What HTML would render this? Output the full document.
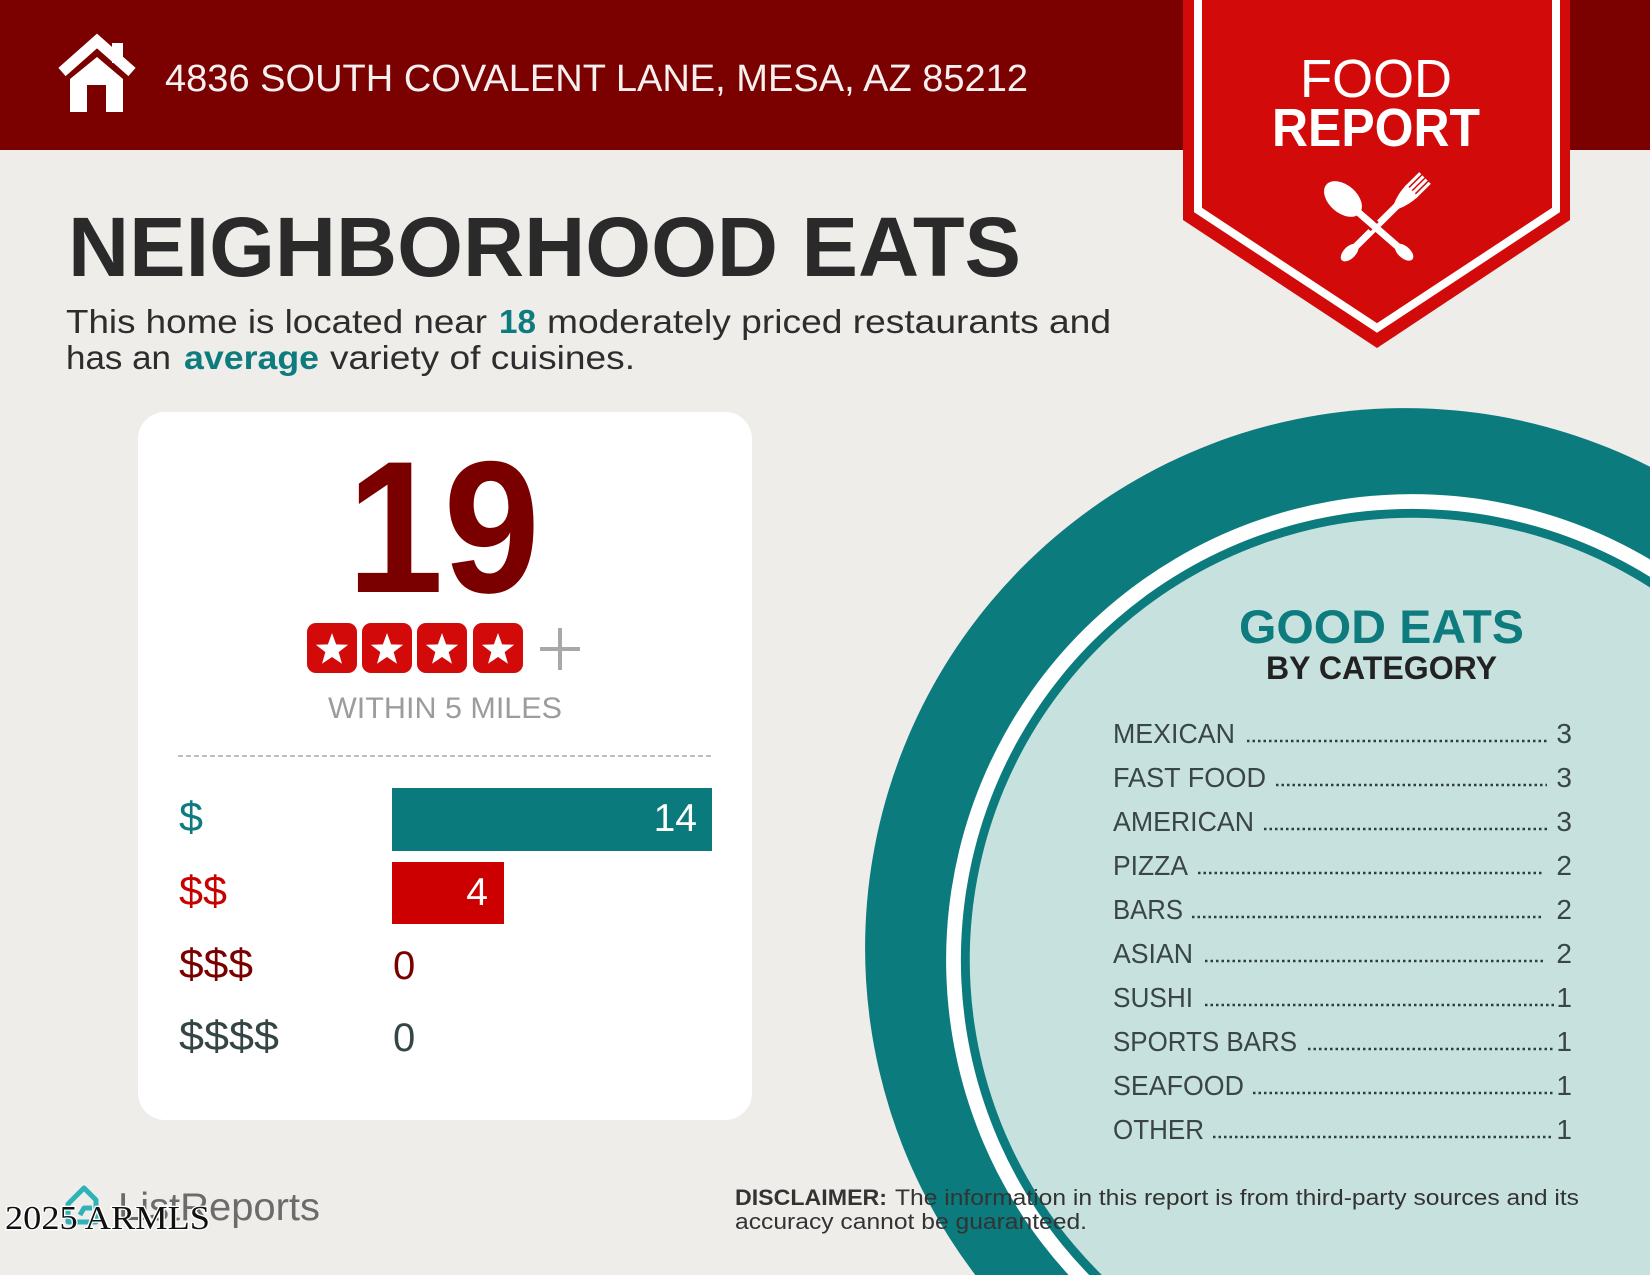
<!DOCTYPE html>
<html>
<head>
<meta charset="utf-8">
<style>
  html,body{margin:0;padding:0;background:#efedea;width:1650px;height:1275px;overflow:hidden;}
  svg{display:block;}
  text{font-family:"Liberation Sans", sans-serif;}
</style>
</head>
<body>
<svg width="1650" height="1275" viewBox="0 0 1650 1275" xmlns="http://www.w3.org/2000/svg">
  <defs>
    <path id="star" d="M0,-17 L4.11,-5.66 L16.17,-5.25 L6.66,2.16 L9.99,13.75 L0,7 L-9.99,13.75 L-6.66,2.16 L-16.17,-5.25 L-4.11,-5.66 Z" fill="#fff"/>
  </defs>

  <!-- background -->
  <rect x="0" y="0" width="1650" height="1275" fill="#efedea"/>

  <!-- header band -->
  <rect x="0" y="0" width="1650" height="150" fill="#7b0000"/>

  <!-- house icon -->
  <g fill="#fff">
    <polyline points="62,72 97,41 132,72" fill="none" stroke="#fff" stroke-width="11" stroke-linejoin="miter"/>
    <rect x="112" y="43" width="11" height="20"/>
    <polygon points="70,112 70,79 97,57 123,79 123,112"/>
    <rect x="87" y="85" width="19" height="27" fill="#7b0000"/>
  </g>

  <!-- address -->
  <text x="165" y="91" font-size="38" fill="#f7f0f0" textLength="863" lengthAdjust="spacingAndGlyphs">4836 SOUTH COVALENT LANE, MESA, AZ 85212</text>

  <!-- ribbon -->
  <polygon points="1183,0 1570,0 1570,220 1377,348 1183,220" fill="#d20a0a"/>
  <polyline points="1198,0 1198,210 1377,328 1556,210 1556,0" fill="none" stroke="#fff" stroke-width="8"/>
  <text x="1376" y="97" font-size="54" fill="#fff" text-anchor="middle" textLength="152" lengthAdjust="spacingAndGlyphs">FOOD</text>
  <text x="1376" y="146" font-size="54" font-weight="bold" fill="#fff" text-anchor="middle" textLength="208" lengthAdjust="spacingAndGlyphs">REPORT</text>

  <!-- fork -->
  <g transform="translate(1425,178) rotate(135.3)" fill="#fff">
    <rect x="0" y="-8.25" width="21" height="3"/>
    <rect x="0" y="-3.75" width="21" height="3"/>
    <rect x="0" y="0.75" width="21" height="3"/>
    <rect x="0" y="5.25" width="21" height="3"/>
    <path d="M18,-8.25 L18,8.25 Q30,8 40,3.5 L40,-3.5 Q30,-8 18,-8.25 Z"/>
    <rect x="38" y="-3.5" width="70" height="7"/>
    <ellipse cx="106" cy="0" rx="11" ry="6"/>
  </g>
  <!-- spoon -->
  <g transform="translate(1343,199) rotate(41)">
    <rect x="12" y="-6" width="30" height="12" fill="#d20a0a"/>
    <g fill="#fff">
      <ellipse cx="0" cy="0" rx="22" ry="14"/>
      <rect x="15" y="-3.5" width="68" height="7" rx="3"/>
      <ellipse cx="81" cy="0" rx="11" ry="6"/>
    </g>
  </g>

  <!-- title -->
  <text x="68" y="276" font-size="84" font-weight="bold" fill="#2a2a2a" textLength="953" lengthAdjust="spacingAndGlyphs">NEIGHBORHOOD EATS</text>

  <!-- subtitle -->
  <g font-size="33" fill="#2d2d2d">
    <text x="66" y="333" textLength="421" lengthAdjust="spacingAndGlyphs">This home is located near</text>
    <text x="499" y="333" font-weight="bold" fill="#0e7c7e" textLength="37" lengthAdjust="spacingAndGlyphs">18</text>
    <text x="547" y="333" textLength="564" lengthAdjust="spacingAndGlyphs">moderately priced restaurants and</text>
    <text x="66" y="369" textLength="105" lengthAdjust="spacingAndGlyphs">has an</text>
    <text x="184" y="369" font-weight="bold" fill="#0e7c7e" textLength="135" lengthAdjust="spacingAndGlyphs">average</text>
    <text x="330" y="369" textLength="305" lengthAdjust="spacingAndGlyphs">variety of cuisines.</text>
  </g>

  <!-- card -->
  <rect x="138" y="412" width="614" height="708" rx="27" ry="27" fill="#ffffff"/>
  <text x="347" y="592" font-size="188" font-weight="bold" fill="#7a0000" textLength="193" lengthAdjust="spacingAndGlyphs">19</text>

  <!-- stars -->
  <g>
    <rect x="307" y="623" width="50" height="50" rx="9" fill="#d20a0a"/>
    <rect x="362" y="623" width="50" height="50" rx="9" fill="#d20a0a"/>
    <rect x="417" y="623" width="50" height="50" rx="9" fill="#d20a0a"/>
    <rect x="473" y="623" width="50" height="50" rx="9" fill="#d20a0a"/>
    <use href="#star" x="332" y="650"/>
    <use href="#star" x="387" y="650"/>
    <use href="#star" x="442" y="650"/>
    <use href="#star" x="498" y="650"/>
  </g>
  <g stroke="#a8a8a8" stroke-width="4">
    <line x1="540" y1="649" x2="580" y2="649"/>
    <line x1="560" y1="628" x2="560" y2="670"/>
  </g>
  <text x="328" y="718" font-size="30" fill="#9c9c9c" textLength="234" lengthAdjust="spacingAndGlyphs">WITHIN 5 MILES</text>

  <line x1="178" y1="756" x2="712" y2="756" stroke="#bdbdbd" stroke-width="2" stroke-dasharray="5 3"/>

  <!-- price bars -->
  <rect x="392" y="788" width="320" height="63" fill="#0a7a7c"/>
  <rect x="392" y="862" width="112" height="62" fill="#cc0000"/>
  <text x="697" y="831" font-size="39" fill="#fff" text-anchor="end">14</text>
  <text x="488" y="905" font-size="39" fill="#fff" text-anchor="end">4</text>

  <text x="179" y="831" font-size="42" fill="#0e7c7e" textLength="24" lengthAdjust="spacingAndGlyphs">$</text>
  <text x="179" y="905" font-size="42" fill="#c80000" textLength="48" lengthAdjust="spacingAndGlyphs">$$</text>
  <text x="179" y="978" font-size="42" fill="#7a0000" textLength="74" lengthAdjust="spacingAndGlyphs">$$$</text>
  <text x="179" y="1050" font-size="42" fill="#354545" textLength="100" lengthAdjust="spacingAndGlyphs">$$$$</text>
  <text x="393" y="979" font-size="40" fill="#7a0000">0</text>
  <text x="393" y="1051" font-size="40" fill="#354545">0</text>

  <!-- plate circle (clipped to frame) -->
  <path d="M1650,466.8 A540,540 0 0 0 975.3,1275 L1650,1275 Z" fill="#0b7b7e"/>
  <path d="M1650,559.4 A466,466 0 0 0 1068.6,1275 L1650,1275 Z" fill="#ffffff"/>
  <path d="M1650,576.9 A451,451 0 0 0 1089.2,1275 L1650,1275 Z" fill="#0b7b7e"/>
  <path d="M1650,587.5 A442,442 0 0 0 1101.9,1275 L1650,1275 Z" fill="#c7e2de"/>

  <text x="1239" y="643" font-size="47" font-weight="bold" fill="#0e7c7e" textLength="285" lengthAdjust="spacingAndGlyphs">GOOD EATS</text>
  <text x="1266" y="679" font-size="32" font-weight="bold" fill="#222" textLength="231" lengthAdjust="spacingAndGlyphs">BY CATEGORY</text>

  <!-- category list -->
  <g font-size="28" fill="#3a4545">
    <text x="1113" y="743" textLength="122" lengthAdjust="spacingAndGlyphs">MEXICAN</text>
    <text x="1113" y="787" textLength="153" lengthAdjust="spacingAndGlyphs">FAST FOOD</text>
    <text x="1113" y="831" textLength="141" lengthAdjust="spacingAndGlyphs">AMERICAN</text>
    <text x="1113" y="875" textLength="75" lengthAdjust="spacingAndGlyphs">PIZZA</text>
    <text x="1113" y="919" textLength="70" lengthAdjust="spacingAndGlyphs">BARS</text>
    <text x="1113" y="963" textLength="80" lengthAdjust="spacingAndGlyphs">ASIAN</text>
    <text x="1113" y="1007" textLength="80" lengthAdjust="spacingAndGlyphs">SUSHI</text>
    <text x="1113" y="1051" textLength="184" lengthAdjust="spacingAndGlyphs">SPORTS BARS</text>
    <text x="1113" y="1095" textLength="131" lengthAdjust="spacingAndGlyphs">SEAFOOD</text>
    <text x="1113" y="1139" textLength="91" lengthAdjust="spacingAndGlyphs">OTHER</text>
  </g>
  <g font-size="28" fill="#3a4545" text-anchor="end">
    <text x="1572" y="743">3</text>
    <text x="1572" y="787">3</text>
    <text x="1572" y="831">3</text>
    <text x="1572" y="875">2</text>
    <text x="1572" y="919">2</text>
    <text x="1572" y="963">2</text>
    <text x="1572" y="1007">1</text>
    <text x="1572" y="1051">1</text>
    <text x="1572" y="1095">1</text>
    <text x="1572" y="1139">1</text>
  </g>
  <g stroke="#2f3d3d" stroke-width="2.5" stroke-dasharray="2.5 3">
    <line x1="1247" y1="741" x2="1547" y2="741"/>
    <line x1="1276" y1="785" x2="1547" y2="785"/>
    <line x1="1264" y1="829" x2="1547" y2="829"/>
    <line x1="1198" y1="873" x2="1544" y2="873"/>
    <line x1="1192" y1="917" x2="1544" y2="917"/>
    <line x1="1205" y1="961" x2="1544" y2="961"/>
    <line x1="1205" y1="1005" x2="1554" y2="1005"/>
    <line x1="1308" y1="1049" x2="1554" y2="1049"/>
    <line x1="1253" y1="1093" x2="1554" y2="1093"/>
    <line x1="1213" y1="1137" x2="1554" y2="1137"/>
  </g>

  <!-- disclaimer -->
  <g font-size="22" fill="#333">
    <text x="735" y="1205" font-weight="bold" textLength="152" lengthAdjust="spacingAndGlyphs">DISCLAIMER:</text>
    <text x="895" y="1205" textLength="684" lengthAdjust="spacingAndGlyphs">The information in this report is from third-party sources and its</text>
    <text x="735" y="1229" textLength="352" lengthAdjust="spacingAndGlyphs">accuracy cannot be guaranteed.</text>
  </g>

  <!-- ListReports logo -->
  <g fill="none" stroke="#2fb3b8" stroke-width="5" stroke-linejoin="round">
    <path d="M68,1204 L84,1188 L96,1200 L96,1222 L68,1222 Z"/>
    <path d="M80,1215 L84,1208 L92,1208"/>
  </g>
  <text x="118" y="1220" font-size="39" fill="#6b6b6b" textLength="202" lengthAdjust="spacingAndGlyphs">ListReports</text>

  <!-- watermark -->
  <text x="5" y="1229" font-size="34" fill="#111" stroke="#fff" stroke-width="2.5" paint-order="stroke" textLength="205" lengthAdjust="spacingAndGlyphs" style="font-family:'Liberation Serif', serif;">2025 ARMLS</text>
</svg>
</body>
</html>
